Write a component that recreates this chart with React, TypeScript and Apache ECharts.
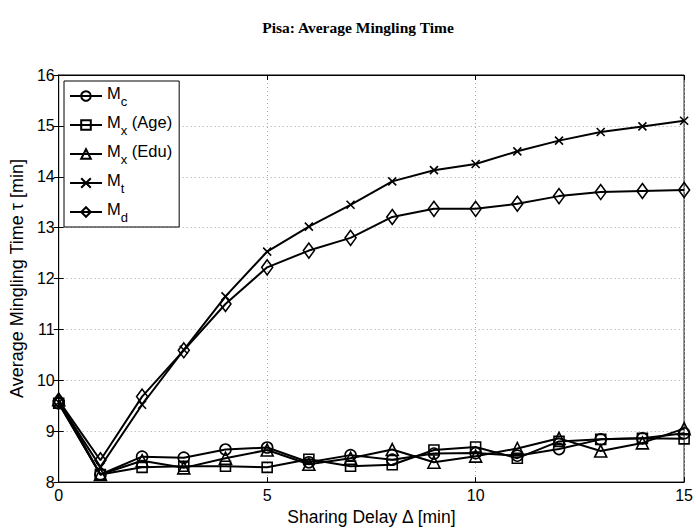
import React, { useEffect, useRef } from "react";
import * as echarts from "echarts";

const xs = [0, 1, 2, 3, 4, 5, 6, 7, 8, 9, 10, 11, 12, 13, 14, 15];
const mc = [9.55, 8.15, 8.5, 8.48, 8.64, 8.68, 8.39, 8.53, 8.44, 8.56, 8.57, 8.52, 8.65, 8.84, 8.86, 8.96];
const mxAge = [9.55, 8.15, 8.29, 8.31, 8.31, 8.29, 8.45, 8.31, 8.34, 8.63, 8.69, 8.47, 8.8, 8.84, 8.86, 8.85];
const mxEdu = [9.62, 8.15, 8.42, 8.28, 8.47, 8.63, 8.35, 8.47, 8.64, 8.39, 8.51, 8.66, 8.86, 8.61, 8.77, 9.05];
const mt = [9.57, 8.3, 9.52, 10.6, 11.65, 12.53, 13.02, 13.45, 13.91, 14.13, 14.25, 14.5, 14.71, 14.88, 14.99, 15.1];
const md = [9.6, 8.43, 9.68, 10.59, 11.5, 12.22, 12.55, 12.8, 13.21, 13.37, 13.37, 13.47, 13.62, 13.7, 13.72, 13.74];

const seriesNames = ["Mc", "MxAge", "MxEdu", "Mt", "Md"];
const legendLabels: Record<string, string> = {
  Mc: "{m|M}{s|c}",
  MxAge: "{m|M}{s|x}{m| (Age)}",
  MxEdu: "{m|M}{s|x}{m| (Edu)}",
  Mt: "{m|M}{s|t}",
  Md: "{m|M}{s|d}",
};

const FONT = "Liberation Sans, Arial, Helvetica, sans-serif";

export default function App() {
  const ref = useRef<HTMLDivElement>(null);
  useEffect(() => {
    if (!ref.current) return;
    const chart = echarts.init(ref.current, undefined, { renderer: "svg" });
    const mk = (name: string, data: number[], symbol: string, size: any) => ({
      name,
      type: "line",
      data: xs.map((x, i) => [x, data[i]]),
      symbol,
      symbolSize: size,
      showAllSymbol: true,
      lineStyle: { color: "#000", width: 2 },
      itemStyle: { color: "rgba(255,255,255,0)", borderColor: "#000", borderWidth: 1.6 },
      emphasis: { disabled: true },
      z: 3,
    });
    const axisCommon = {
      axisLine: { show: true, lineStyle: { color: "#000", width: 1 } },
      axisTick: { show: true, inside: true, length: 5, lineStyle: { color: "#000" } },
    };
    chart.setOption({
      animation: false,
      backgroundColor: "#fff",
      title: {
        text: "Pisa: Average Mingling Time",
        left: 353,
        top: 14,
        textAlign: "center",
        textStyle: { fontFamily: "Liberation Serif, Times New Roman, serif", fontWeight: "bold", fontSize: 15.5, color: "#000" },
      },
      grid: { left: 58, right: 8, top: 75, bottom: 45, show: true, borderColor: "#000", borderWidth: 1, backgroundColor: "#fff" },
      legend: {
        orient: "vertical",
        left: 64,
        top: 81,
        data: seriesNames,
        backgroundColor: "#fff",
        borderColor: "#000",
        borderWidth: 1,
        borderRadius: 0,
        padding: [3, 7, 3, 5],
        itemWidth: 32,
        itemHeight: 12,
        itemGap: 5,
        formatter: (n: string) => legendLabels[n],
        textStyle: {
          color: "#000",
          fontFamily: FONT,
          rich: {
            m: { fontSize: 16.5, fontFamily: FONT, color: "#000", lineHeight: 24, verticalAlign: "top", padding: [0, 0, 6, 0] },
            s: { fontSize: 13, fontFamily: FONT, color: "#000", lineHeight: 24, verticalAlign: "bottom", padding: [7, 0, 0, 0] },
          },
        },
      },
      xAxis: [
        {
          type: "value",
          min: 0,
          max: 15,
          interval: 5,
          name: "Sharing Delay Δ [min]",
          nameLocation: "middle",
          nameGap: 22,
          nameTextStyle: { fontFamily: FONT, fontSize: 17.5, color: "#000" },
          ...axisCommon,
          axisLabel: { fontFamily: FONT, fontSize: 16, color: "#000", margin: 5 },
          splitLine: { show: true, lineStyle: { color: "#aaa", type: [1, 3], width: 1 } },
        },
        {
          type: "value",
          position: "top",
          min: 0,
          max: 15,
          interval: 5,
          ...axisCommon,
          axisLabel: { show: false },
          splitLine: { show: false },
        },
      ],
      yAxis: [
        {
          type: "value",
          min: 8,
          max: 16,
          interval: 1,
          name: "Average Mingling Time τ [min]",
          nameLocation: "middle",
          nameGap: 28,
          nameTextStyle: { fontFamily: FONT, fontSize: 18, color: "#000" },
          ...axisCommon,
          axisLabel: { fontFamily: FONT, fontSize: 16, color: "#000", margin: 4 },
          splitLine: { show: true, lineStyle: { color: "#aaa", type: [1, 3], width: 1 } },
        },
        {
          type: "value",
          position: "right",
          min: 8,
          max: 16,
          interval: 1,
          ...axisCommon,
          axisLabel: { show: false },
          splitLine: { show: false },
        },
      ],
      series: [
        mk("Mc", mc, "circle", 11),
        mk("MxAge", mxAge, "rect", 10),
        mk("MxEdu", mxEdu, "triangle", 12),
        mk("Mt", mt, "path://M0,0L10,10M10,0L0,10", 8),
        mk("Md", md, "diamond", [11, 15]),
      ],
    });
    return () => chart.dispose();
  }, []);
  return <div ref={ref} style={{ width: 696, height: 531, position: "absolute", left: 0, top: 0 }} />;
}
